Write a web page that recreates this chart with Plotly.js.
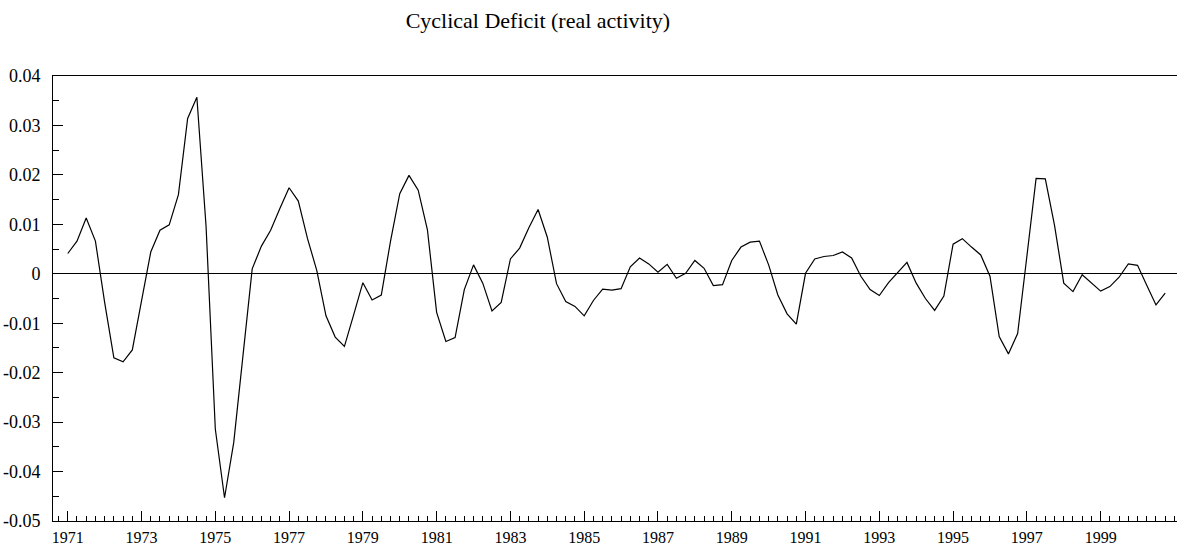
<!DOCTYPE html>
<html>
<head>
<meta charset="utf-8">
<script src="https://cdn.plot.ly/plotly-3.0.1.min.js"></script>
<style>html,body{margin:0;padding:0;background:#fff;}#chart{width:1177px;height:547px;}</style>
</head>
<body>
<div id="chart"></div>
<script>
// Quarterly data 1971Q1 - 2000Q4
const startYear = 1971;
const cyclicalDeficit = [
  0.0041, 0.0066, 0.0113, 0.0066,
  -0.0058, -0.0170, -0.0178, -0.0154,
  -0.0055, 0.0044, 0.0088, 0.0099,
  0.0160, 0.0314, 0.0357, 0.0095,
  -0.0314, -0.0453, -0.0341, -0.0160,
  0.0010, 0.0056, 0.0088, 0.0132,
  0.0174, 0.0147, 0.0071, 0.0007,
  -0.0085, -0.0128, -0.0147, -0.0083,
  -0.0018, -0.0053, -0.0043, 0.0066,
  0.0162, 0.0199, 0.0169, 0.0089,
  -0.0078, -0.0137, -0.0129, -0.0032,
  0.0018, -0.0019, -0.0075, -0.0058,
  0.0030, 0.0052, 0.0093, 0.0130,
  0.0074, -0.0020, -0.0056, -0.0066,
  -0.0085, -0.0054, -0.0031, -0.0033,
  -0.0030, 0.0014, 0.0032, 0.0020,
  0.0003, 0.0019, -0.0009, 0.0001,
  0.0027, 0.0011, -0.0024, -0.0022,
  0.0027, 0.0054, 0.0064, 0.0066,
  0.0018, -0.0043, -0.0081, -0.0102,
  0.0001, 0.0030, 0.0035, 0.0037,
  0.0044, 0.0032, -0.0005, -0.0032,
  -0.0044, -0.0018, 0.0002, 0.0023,
  -0.0019, -0.0050, -0.0074, -0.0045,
  0.0060, 0.0071, 0.0054, 0.0038,
  -0.0005, -0.0127, -0.0162, -0.0121,
  0.0035, 0.0193, 0.0192, 0.0098,
  -0.0019, -0.0036, -0.0002, -0.0019,
  -0.0035, -0.0026, -0.0007, 0.0020,
  0.0017, -0.0023, -0.0063, -0.0039
];
const xTickVals = [1971, 1973, 1975, 1977, 1979, 1981, 1983, 1985, 1987, 1989, 1991, 1993, 1995, 1997, 1999];
const xTickLabels = ["1971", "1973", "1975", "1977", "1979", "1981", "1983", "1985", "1987", "1989", "1991", "1993", "1995", "1997", "1999"];
const yTickVals = [0.04, 0.03, 0.02, 0.01, 0, -0.01, -0.02, -0.03, -0.04, -0.05];
const yTickLabels = ["0.04", "0.03", "0.02", "0.01", "0", "-0.01", "-0.02", "-0.03", "-0.04", "-0.05"];

const xQuarter = cyclicalDeficit.map((v, i) => startYear + i / 4);
const serif = "'Liberation Serif', 'Times New Roman', serif";

const trace = {
  x: xQuarter,
  y: cyclicalDeficit,
  type: 'scatter',
  mode: 'lines',
  line: {color: '#000', width: 1.2},
  hoverinfo: 'x+y'
};

const layout = {
  width: 1177, height: 547,
  paper_bgcolor: '#fff', plot_bgcolor: '#fff',
  margin: {l: 53, r: 0, t: 76, b: 26},
  showlegend: false,
  title: {
    text: 'Cyclical Deficit (real activity)',
    font: {family: serif, size: 22, color: '#000'},
    xref: 'container', yref: 'container',
    x: 0.457, xanchor: 'center', y: 0.962, yanchor: 'middle'
  },
  xaxis: {
    range: [1970.60, 2001.07],
    showgrid: false, zeroline: false,
    showline: true, linecolor: '#000', linewidth: 1, mirror: true,
    tickmode: 'array', tickvals: xTickVals, ticktext: xTickLabels,
    ticks: 'inside', ticklen: 10, tickcolor: '#000', tickwidth: 1,
    minor: {tickmode: 'linear', tick0: 1971, dtick: 0.25, ticks: 'inside', ticklen: 5, tickcolor: '#000', tickwidth: 1, showgrid: false},
    tickfont: {family: serif, size: 16, color: '#000'},
    ticklabelstandoff: 2
  },
  yaxis: {
    range: [-0.05, 0.04],
    showgrid: false,
    zeroline: true, zerolinecolor: '#000', zerolinewidth: 1,
    showline: true, linecolor: '#000', linewidth: 1, mirror: false,
    tickmode: 'array', tickvals: yTickVals, ticktext: yTickLabels,
    ticks: 'inside', ticklen: 10, tickcolor: '#000', tickwidth: 1,
    minor: {tickmode: 'linear', tick0: 0, dtick: 0.005, ticks: 'inside', ticklen: 6, tickcolor: '#000', tickwidth: 1, showgrid: false},
    tickfont: {family: serif, size: 18, color: '#000'},
    ticklabelstandoff: 8
  }
};

Plotly.newPlot('chart', [trace], layout, {displayModeBar: false, staticPlot: true});
</script>
</body>
</html>
